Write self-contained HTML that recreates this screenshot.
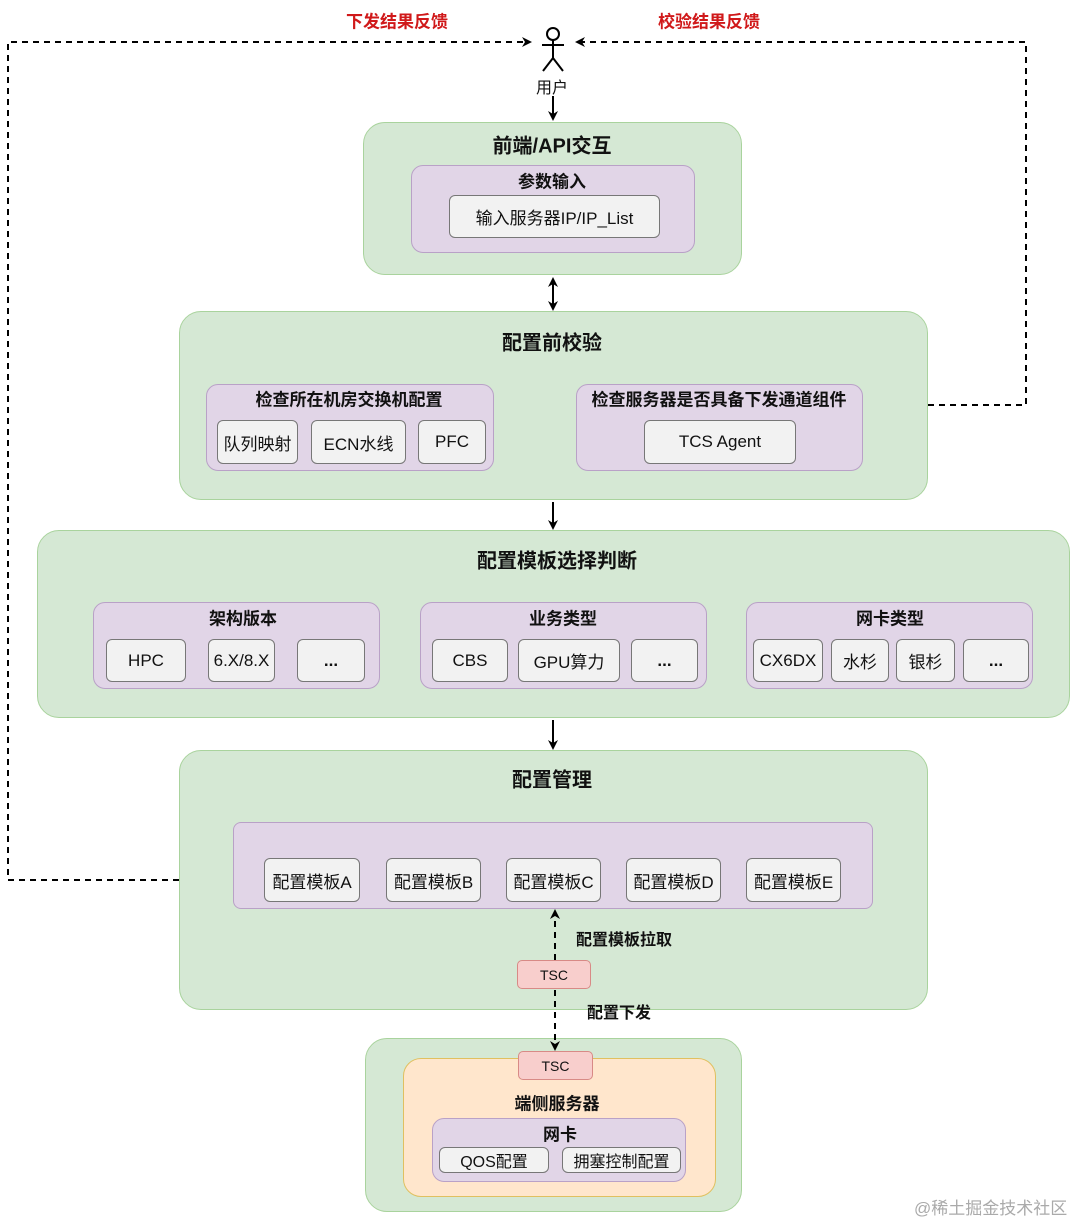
<!DOCTYPE html>
<html><head><meta charset="utf-8"><style>
body{margin:0;width:1080px;height:1222px;background:#fff;position:relative;overflow:hidden;font-family:"Liberation Sans","Noto Sans CJK SC",sans-serif;color:#111}
.b{position:absolute;box-sizing:border-box;display:flex;align-items:center;justify-content:center;font-size:17px}
.g{background:#d5e8d4;border:1.5px solid #a9d39d;border-radius:22px}
.p{background:#e1d5e7;border:1.5px solid #b9a1c7;border-radius:12px}
.w{background:#f2f2f2;border:1.5px solid #777;border-radius:6px}
.r{background:#f8cecc;border:1.5px solid #d88a86;border-radius:5px;font-size:14px}
.o{background:#ffe6cc;border:1.5px solid #e0c060;border-radius:18px}
.t{position:absolute;transform:translate(-50%,-50%);font-weight:bold;white-space:nowrap;font-size:20px}
.s{font-size:17px}
</style></head><body>
<div class="t" style="left:397px;top:20px;color:#d0191a;font-size:17px">下发结果反馈</div>
<div class="t" style="left:709px;top:20px;color:#d0191a;font-size:17px">校验结果反馈</div>
<div class="t" style="left:552px;top:86px;font-weight:normal;font-size:16px">用户</div>

<div class="b g" style="left:363px;top:122px;width:379px;height:153px"></div>
<div class="t" style="left:552px;top:144px">前端/API交互</div>
<div class="b p" style="left:411px;top:165px;width:284px;height:88px"></div>
<div class="t s" style="left:552px;top:180px">参数输入</div>
<div class="b w" style="left:449px;top:195px;width:211px;height:43px">输入服务器IP/IP_List</div>

<div class="b g" style="left:179px;top:311px;width:749px;height:189px"></div>
<div class="t" style="left:552px;top:341px">配置前校验</div>
<div class="b p" style="left:206px;top:384px;width:288px;height:87px"></div>
<div class="t s" style="left:349px;top:398px">检查所在机房交换机配置</div>
<div class="b w" style="left:217px;top:420px;width:81px;height:44px">队列映射</div>
<div class="b w" style="left:311px;top:420px;width:95px;height:44px">ECN水线</div>
<div class="b w" style="left:418px;top:420px;width:68px;height:44px">PFC</div>
<div class="b p" style="left:576px;top:384px;width:287px;height:87px"></div>
<div class="t s" style="left:719px;top:398px">检查服务器是否具备下发通道组件</div>
<div class="b w" style="left:644px;top:420px;width:152px;height:44px">TCS Agent</div>

<div class="b g" style="left:37px;top:530px;width:1033px;height:188px"></div>
<div class="t" style="left:557px;top:559px">配置模板选择判断</div>
<div class="b p" style="left:93px;top:602px;width:287px;height:87px"></div>
<div class="t s" style="left:243px;top:617px">架构版本</div>
<div class="b w" style="left:106px;top:639px;width:80px;height:43px">HPC</div>
<div class="b w" style="left:208px;top:639px;width:67px;height:43px">6.X/8.X</div>
<div class="b w" style="left:297px;top:639px;width:68px;height:43px;font-weight:bold">...</div>
<div class="b p" style="left:420px;top:602px;width:287px;height:87px"></div>
<div class="t s" style="left:563px;top:617px">业务类型</div>
<div class="b w" style="left:432px;top:639px;width:76px;height:43px">CBS</div>
<div class="b w" style="left:518px;top:639px;width:102px;height:43px">GPU算力</div>
<div class="b w" style="left:631px;top:639px;width:67px;height:43px;font-weight:bold">...</div>
<div class="b p" style="left:746px;top:602px;width:287px;height:87px"></div>
<div class="t s" style="left:890px;top:617px">网卡类型</div>
<div class="b w" style="left:753px;top:639px;width:70px;height:43px">CX6DX</div>
<div class="b w" style="left:831px;top:639px;width:58px;height:43px">水杉</div>
<div class="b w" style="left:896px;top:639px;width:59px;height:43px">银杉</div>
<div class="b w" style="left:963px;top:639px;width:66px;height:43px;font-weight:bold">...</div>

<div class="b g" style="left:179px;top:750px;width:749px;height:260px"></div>
<div class="t" style="left:552px;top:778px">配置管理</div>
<div class="b p" style="left:233px;top:822px;width:640px;height:87px;border-radius:8px"></div>
<div class="b w" style="left:264px;top:858px;width:96px;height:44px">配置模板A</div>
<div class="b w" style="left:386px;top:858px;width:95px;height:44px">配置模板B</div>
<div class="b w" style="left:506px;top:858px;width:95px;height:44px">配置模板C</div>
<div class="b w" style="left:626px;top:858px;width:95px;height:44px">配置模板D</div>
<div class="b w" style="left:746px;top:858px;width:95px;height:44px">配置模板E</div>
<div class="t" style="left:624px;top:938px;font-size:16px">配置模板拉取</div>
<div class="b r" style="left:517px;top:960px;width:74px;height:29px">TSC</div>
<div class="t" style="left:619px;top:1011px;font-size:16px">配置下发</div>

<div class="b g" style="left:365px;top:1038px;width:377px;height:174px"></div>
<div class="b o" style="left:403px;top:1058px;width:313px;height:139px"></div>
<div class="b r" style="left:518px;top:1051px;width:75px;height:29px">TSC</div>
<div class="t s" style="left:557px;top:1102px">端侧服务器</div>
<div class="b p" style="left:432px;top:1118px;width:254px;height:64px"></div>
<div class="t s" style="left:560px;top:1133px">网卡</div>
<div class="b w" style="left:439px;top:1147px;width:110px;height:26px;font-size:16px">QOS配置</div>
<div class="b w" style="left:562px;top:1147px;width:119px;height:26px;font-size:16px">拥塞控制配置</div>
<div style="position:absolute;left:914px;top:1194px;font-size:17px;color:#aaa">@稀土掘金技术社区</div>

<svg width="1080" height="1222" style="position:absolute;left:0;top:0;pointer-events:none">
<defs><marker id="a" markerWidth="10" markerHeight="10" refX="8" refY="5" orient="auto" markerUnits="userSpaceOnUse"><path d="M0,0 L10,5 L0,10 L3,5z" fill="#000"/></marker>
<marker id="a2" markerWidth="10" markerHeight="10" refX="2" refY="5" orient="auto" markerUnits="userSpaceOnUse"><path d="M10,0 L0,5 L10,10 L7,5z" fill="#000"/></marker></defs>
<g stroke="#000" stroke-width="2" fill="none">
<path d="M179,880 H8 V42 H530" stroke-dasharray="6,5" marker-end="url(#a)"/>
<path d="M928,405 H1026 V42 H577" stroke-dasharray="6,5" marker-end="url(#a)"/>
<circle cx="553" cy="34" r="6"/>
<path d="M553,40 V58 M542,45 H564 M553,58 L543,71 M553,58 L563,71"/>
<path d="M553,96 V119" marker-end="url(#a)"/>
<path d="M553,279 V309" marker-start="url(#a2)" marker-end="url(#a)"/>
<path d="M553,502 V528" marker-end="url(#a)"/>
<path d="M553,720 V748" marker-end="url(#a)"/>
<path d="M555,960 V911" stroke-dasharray="6,5" marker-end="url(#a)"/>
<path d="M555,990 V1049" stroke-dasharray="6,5" marker-end="url(#a)"/>
</g></svg>
</body></html>
